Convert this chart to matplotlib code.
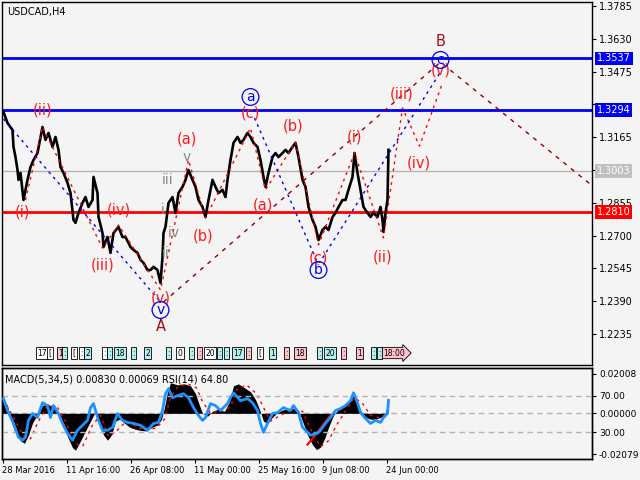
import matplotlib
matplotlib.use('Agg')
from matplotlib import pyplot as plt
import matplotlib.transforms as mtransforms

# price path (bar index, price)
price_bars = [1, 5, 10, 11, 13, 15, 16, 18, 21, 25, 28, 31, 35, 40, 43, 46, 50, 53, 56, 58,
              61, 65, 68, 71, 73, 76, 80, 83, 86, 90, 91, 95, 96, 100, 101, 105, 108, 111, 116, 120,
              123, 128, 131, 135, 138, 141, 145, 148, 151, 155, 158, 160, 161, 163, 166, 170, 173, 176, 180, 183,
              186, 190, 193, 196, 200, 203, 206, 210, 213, 216, 220, 223, 225, 228, 231, 235, 238, 241, 245, 248,
              251, 255, 258, 261, 263, 266, 270, 273, 276, 280, 283, 286, 290, 293, 296, 300, 303, 306, 310, 313,
              316, 320, 323, 326, 330, 333, 336, 340, 343, 346, 350, 352, 355, 358, 361, 365, 368, 371, 375, 378,
              380, 381, 383, 385, 386]
price_vals = [1.3284, 1.3232, 1.3199, 1.3119, 1.3071, 1.3010, 1.2963, 1.2996, 1.2868, 1.2963,
              1.3024, 1.3057, 1.3090, 1.3213, 1.3152, 1.3185, 1.3119, 1.3166, 1.3105, 1.3024,
              1.2996, 1.2949, 1.2901, 1.2774, 1.2760, 1.2807, 1.2854, 1.2882, 1.2835, 1.2868,
              1.2977, 1.2901, 1.2788, 1.2712, 1.2646, 1.2693, 1.2618, 1.2712, 1.2741, 1.2693,
              1.2693, 1.2646, 1.2632, 1.2618, 1.2585, 1.2571, 1.2537, 1.2537, 1.2552, 1.2537,
              1.2476, 1.2599, 1.2712, 1.2741, 1.2854, 1.2882, 1.2807, 1.2901, 1.2930, 1.2963,
              1.3010, 1.2963, 1.2930, 1.2868, 1.2835, 1.2788, 1.2868, 1.2963, 1.2930, 1.2901,
              1.2916, 1.2882, 1.2963, 1.3057, 1.3138, 1.3166, 1.3138, 1.3152, 1.3185, 1.3166,
              1.3138, 1.3119, 1.3057, 1.2977, 1.2930, 1.2996, 1.3071, 1.3090, 1.3071, 1.3090,
              1.3105, 1.3090, 1.3119, 1.3138, 1.3071, 1.2963, 1.2930, 1.2835, 1.2774, 1.2741,
              1.2679, 1.2726, 1.2741, 1.2726, 1.2788, 1.2807, 1.2835, 1.2868, 1.2868, 1.2916,
              1.2977, 1.3090, 1.2996, 1.2916, 1.2835, 1.2807, 1.2788, 1.2807, 1.2788, 1.2835,
              1.2774, 1.2717, 1.2807, 1.2868, 1.3105]

# horizontal levels
blue_levels = [1.3537, 1.3294]
red_level = 1.2810
gray_level = 1.3003
price_ticks = [1.3785, 1.3630, 1.3475, 1.3320, 1.3165, 1.3010, 1.2855, 1.2700, 1.2545, 1.2390, 1.2235]
hidden_ticks = [1.3320, 1.3010]   # covered by the level boxes

# wave paths
minor_bars = [23, 40, 100, 116, 158, 186, 203, 248, 263, 293, 316, 352, 381, 400, 417, 440]
minor_vals = [1.2868, 1.3213, 1.2641, 1.2750, 1.2443, 1.3057, 1.2783, 1.3208, 1.2916, 1.3142,
              1.2656, 1.3090, 1.2689, 1.3303, 1.3123, 1.3421]
blue_paths = [([1, 158], [1.3251, 1.2386]),
              ([252, 316], [1.3256, 1.2561]),
              ([320, 438], [1.2594, 1.3473])]
major_bars = [161, 438, 590]
major_vals = [1.2386, 1.3520, 1.2934]

# wave labels
red_labels = [(20, 1.2812, '(i)'), (40, 1.3294, '(ii)'), (100, 1.2561, '(iii)'), (116, 1.2821, '(iv)'),
              (158, 1.2405, '(v)'), (184, 1.3156, '(a)'), (201, 1.2698, '(b)'), (248, 1.3279, '(c)'),
              (291, 1.3218, '(b)'), (260, 1.2845, '(a)'), (316, 1.2594, '(c)'), (352, 1.3166, '(i)'),
              (380, 1.2599, '(ii)'), (399, 1.3369, '(iii)'), (416, 1.3043, '(iv)'), (438, 1.3483, '(v)')]
gray_labels = [(163, 1.2618, 'ii'), (171, 1.2712, 'iv'), (160, 1.2821, 'i'), (165, 1.2963, 'iii'),
               (184, 1.3071, 'v')]
circle_labels = [(158, 1.2348, 'v'), (248, 1.3355, 'a'), (316, 1.2537, 'b'), (438, 1.3530, 'c')]
big_labels = [(158, 1.2268, 'A'), (438, 1.3615, 'B')]

# time tags along the bottom
tag_bars = [35, 46, 56, 61, 70, 78, 83, 101, 106, 113, 130, 143, 165, 175, 188, 196, 203, 216, 223,
            231, 245, 256, 268, 283, 293, 316, 323, 340, 355, 370, 376, 381]
tag_texts = ['17', '[', '1', ':', '[', ':', '2', ':', ':', '18', ':', '2', ':', '0', ':', ':', '20', ':', ':',
             '17', ':', '[', '1', ':', '18', ':', '20', ':', '1', ':', ':', '18:00']
tag_colors = ['w', 'w', 'p', 'c', 'w', 'w', 'c', 'w', 'c', 'c', 'c', 'c', 'c', 'w', 'c', 'p', 'w', 'c', 'c',
              'c', 'p', 'w', 'c', 'p', 'p', 'c', 'c', 'p', 'p', 'c', 'c', 'p']

# indicator window
macd_bars = [0, 5, 8, 12, 18, 22, 26, 30, 35, 40, 45, 50, 55, 58, 62, 66, 70, 73, 77, 82, 86, 90, 93, 97,
             101, 105, 109, 113, 117, 122, 127, 132, 138, 144, 150, 155, 159, 162, 165, 168, 175, 182, 188,
             193, 197, 200, 205, 210, 215, 222, 227, 231, 236, 242, 248, 253, 257, 261, 265, 270, 275, 282,
             290, 296, 300, 305, 310, 314, 318, 322, 326, 331, 336, 341, 347, 351, 355, 358, 363, 368, 373,
             378, 382, 385, 386]
macd_vals = [0.0080, 0.0040, -0.0030, -0.0090, -0.0140, -0.0153, -0.0110, -0.0050, -0.0005, 0.0040,
             0.0049, 0.0030, 0.0010, -0.0020, -0.0080, -0.0130, -0.0175, -0.0188, -0.0150, -0.0100,
             -0.0060, -0.0020, 0.0010, -0.0050, -0.0110, -0.0137, -0.0110, -0.0040, -0.0030, -0.0050,
             -0.0070, -0.0080, -0.0087, -0.0090, -0.0070, -0.0060, -0.0030, 0.0030, 0.0110, 0.0156,
             0.0145, 0.0150, 0.0140, 0.0100, 0.0040, 0.0000, -0.0015, 0.0010, 0.0020, 0.0010,
             0.0060, 0.0140, 0.0150, 0.0130, 0.0110, 0.0070, 0.0020, -0.0040, -0.0052, -0.0020,
             0.0005, 0.0020, 0.0025, 0.0015, -0.0040, -0.0110, -0.0160, -0.0185, -0.0173, -0.0130,
             -0.0072, -0.0010, 0.0020, 0.0040, 0.0060, 0.0105, 0.0060, 0.0014, -0.0020, -0.0030,
             -0.0030, -0.0021, -0.0010, 0.0040, 0.0083]
signal_bars = [0, 10, 20, 28, 36, 45, 55, 63, 72, 80, 90, 98, 106, 114, 124, 134, 144, 154, 162, 168,
               176, 186, 194, 200, 208, 218, 228, 234, 244, 254, 262, 268, 278, 290, 300, 308, 318, 326,
               334, 344, 352, 360, 368, 378, 386]
signal_vals = [0.0070, -0.0010, -0.0110, -0.0130, -0.0040, 0.0040, 0.0030, -0.0040, -0.0150, -0.0170,
               -0.0060, -0.0010, -0.0120, -0.0090, -0.0040, -0.0070, -0.0085, -0.0075, -0.0030, 0.0080,
               0.0140, 0.0148, 0.0130, 0.0060, 0.0000, 0.0015, 0.0030, 0.0120, 0.0145, 0.0100,
               0.0020, -0.0040, -0.0010, 0.0020, 0.0010, -0.0080, -0.0170, -0.0140, -0.0060, 0.0020,
               0.0080, 0.0050, -0.0010, -0.0025, 0.0007]
rsi_bars = [1, 5, 11, 16, 20, 23, 26, 30, 35, 40, 45, 48, 51, 56, 60, 65, 70, 75, 80, 85, 88, 91, 96, 100,
            105, 110, 115, 120, 125, 131, 138, 145, 151, 156, 160, 163, 166, 170, 175, 181, 186, 191, 196,
            200, 203, 208, 213, 218, 225, 228, 231, 238, 245, 250, 255, 258, 261, 265, 270, 275, 281, 288,
            291, 296, 300, 303, 308, 315, 318, 323, 328, 333, 338, 343, 348, 351, 355, 358, 363, 368, 373,
            378, 381, 385, 386]
rsi_vals = [66.8, 53.8, 39.7, 24.6, 21.4, 24.6, 43.0, 50.5, 46.2, 62.4, 59.2, 46.2, 59.2, 50.5, 39.7,
            28.9, 21.4, 32.2, 37.6, 43.0, 57.0, 61.4, 43.0, 32.2, 32.2, 35.4, 50.5, 43.0, 40.8, 39.7,
            37.6, 32.2, 39.7, 40.8, 53.8, 72.2, 77.6, 67.8, 70.0, 72.2, 67.8, 57.0, 48.4, 43.0, 46.2,
            61.4, 59.2, 53.8, 61.4, 67.8, 73.2, 64.6, 66.8, 62.4, 53.8, 39.7, 30.0, 39.7, 50.5, 51.6,
            57.0, 53.8, 59.2, 51.6, 35.4, 32.2, 26.8, 28.9, 32.2, 39.7, 46.2, 53.8, 55.9, 59.2, 64.6,
            73.2, 62.4, 51.6, 45.1, 39.7, 43.0, 40.8, 46.2, 50.5, 64.8]
trend_bars = [305, 328]
trend_vals = [-0.0160, -0.0010]

date_bars = [0, 64, 128, 192, 256, 320, 384]
date_labels = ['28 Mar 2016', '11 Apr 16:00', '26 Apr 08:00', '11 May 00:00', '25 May 16:00',
               '9 Jun 08:00', '24 Jun 00:00']

bg = '#f4f4f4'
fig = plt.figure(figsize=(6.4, 4.8), dpi=100, facecolor=bg)
ax = fig.add_axes([2 / 640, 115 / 480, 590 / 640, 363 / 480], facecolor=bg)
ax2 = fig.add_axes([2 / 640, 21 / 480, 590 / 640, 91 / 480], facecolor=bg)

# ---- main chart ----
ax.set_xlim(-0.5, 589.5)
ax.set_ylim(1.2088, 1.3804)
ax.axhline(gray_level, color='#b4b4b4', lw=1, zorder=1)
for lv in blue_levels:
    ax.axhline(lv, color='#0000ee', lw=2, zorder=2)
ax.axhline(red_level, color='#ff0000', lw=2, zorder=2)

ax.plot(price_bars, price_vals, color='black', lw=1.9, zorder=3)

ax.plot(minor_bars, minor_vals, color='#ff0000', lw=1, ls=(0, (2, 3)), zorder=4)
for xs, ys in blue_paths:
    ax.plot(xs, ys, color='#0000ee', lw=1, ls=(0, (2, 3)), zorder=4)
ax.plot(major_bars, major_vals, color='#8b0000', lw=1, ls=(0, (3, 4)), zorder=4)

for x, y, t in red_labels:
    ax.text(x, y, t, color='#ff1a1a', fontsize=10.5, ha='center', va='center', zorder=6)
for x, y, t in gray_labels:
    ax.text(x, y, t, color='#7f8a8a', fontsize=10, ha='center', va='center', zorder=6)
for x, y, t in circle_labels:
    ax.text(x, y, t, color='#0000ee', fontsize=10, ha='center', va='center', zorder=6,
            bbox=dict(boxstyle='circle,pad=0.1', fc='none', ec='#0000ee', lw=0.9))
for x, y, t in big_labels:
    ax.text(x, y, t, color='#a01010', fontsize=10.5, ha='center', va='center', zorder=6)

tag_fc = {'w': 'white', 'c': '#b4f0f0', 'p': '#ffc0cb'}
tag_trans = mtransforms.blended_transform_factory(ax.transData, ax.transAxes)
for b, t, c in zip(tag_bars, tag_texts, tag_colors):
    style = 'rarrow,pad=0.15' if ':' in t and len(t) > 1 else 'square,pad=0.15'
    ax.text(b, 0.033, t, transform=tag_trans, fontsize=5.5, ha='left', va='center', zorder=7,
            bbox=dict(boxstyle=style, fc=tag_fc[c], ec='black', lw=0.6))

ax.text(0.008, 0.985, 'USDCAD,H4', transform=ax.transAxes, fontsize=7, va='top', ha='left')

ax.yaxis.tick_right()
ax.set_yticks(price_ticks)
ax.set_yticklabels(['' if p in hidden_ticks else '%.4f' % p for p in price_ticks])
ax.tick_params(axis='y', labelsize=7, length=3, pad=2, direction='out')
ax.set_xticks([])
for sp in ax.spines.values():
    sp.set_color('black')
    sp.set_linewidth(1)

ytrans = mtransforms.blended_transform_factory(ax.transAxes, ax.transData)
box_levels = [(1.3537, '1.3537', '#0000ee', 'white'), (1.3294, '1.3294', '#0000ee', 'white'),
              (1.2810, '1.2810', '#ff0000', 'white'), (1.3003, '1.3003', '#c0c0c0', 'white')]
for lv, txt, fc, tc in box_levels:
    ax.text(1.008, lv, txt, transform=ytrans, color=tc, fontsize=7, ha='left', va='center',
            clip_on=False, zorder=10, bbox=dict(boxstyle='square,pad=0.2', fc=fc, ec='none'))

# ---- indicator window ----
ax2.set_xlim(-0.5, 589.5)
ax2.set_ylim(-0.0233, 0.0231)
ax2.fill_between(macd_bars, 0, macd_vals, color='black', lw=0, zorder=2)
ax2.plot(signal_bars, signal_vals, color='#ff0000', lw=1, ls=(0, (2, 3)), zorder=3)
ax2.plot(trend_bars, trend_vals, color='#ff0000', lw=1.5, zorder=4)
ax2.axhline(0, color='#b4b4b4', lw=1, ls=(0, (4, 3)), zorder=1)

rsi_ax = ax2.twinx()
rsi_ax.set_ylim(0.8, 100.3)
rsi_ax.plot(rsi_bars, rsi_vals, color='#1e90ff', lw=2, zorder=5)
rsi_ax.axhline(70, color='#b4b4b4', lw=1, ls=(0, (4, 3)), zorder=1)
rsi_ax.axhline(30, color='#b4b4b4', lw=1, ls=(0, (4, 3)), zorder=1)
rsi_ax.set_yticks([70, 30])
rsi_ax.set_yticklabels(['70.00', '30.00'])
rsi_ax.tick_params(axis='y', labelsize=6.5, length=3, pad=2)

ax2.yaxis.tick_right()
ax2.set_yticks([0.02008, 0, -0.02079])
ax2.set_yticklabels(['0.02008', '0.00000', '-0.02079'])
ax2.tick_params(axis='y', labelsize=6.5, length=3, pad=2)
ax2.set_xticks(date_bars)
ax2.set_xticklabels(date_labels)
ax2.tick_params(axis='x', labelsize=6, length=3, pad=2)
for lab in ax2.get_xticklabels():
    lab.set_horizontalalignment('left')
for a in (ax2, rsi_ax):
    for sp in a.spines.values():
        sp.set_color('black')
        sp.set_linewidth(1)

ax2.text(0.005, 0.93, 'MACD(5,34,5) 0.00830 0.00069 RSI(14) 64.80', transform=ax2.transAxes,
         fontsize=7, va='top', ha='left', zorder=8)

fig.savefig('out.png', dpi=100, facecolor=bg)
